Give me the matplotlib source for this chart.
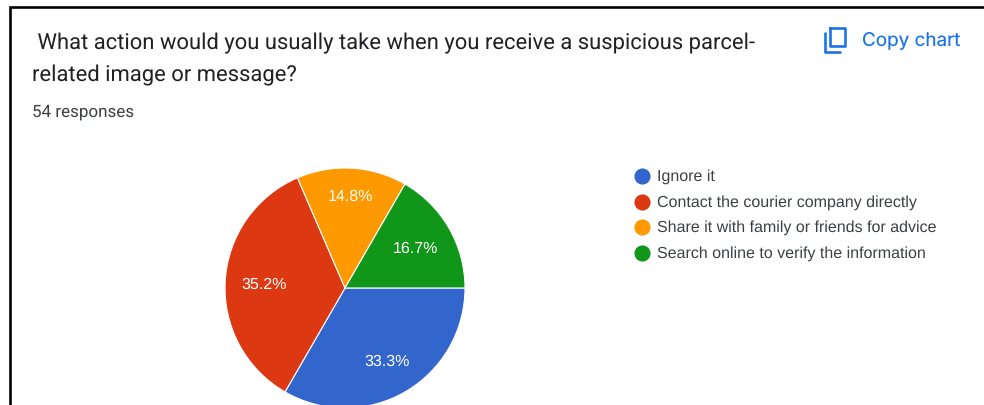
import matplotlib
matplotlib.use('Agg')
import matplotlib.pyplot as plt
import numpy as np

plt.rcParams['font.family'] = ['Roboto', 'DejaVu Sans']
plt.rcParams['text.hinting'] = 'no_hinting'
plt.rcParams['text.hinting_factor'] = 1

title_lines = [' What action would you usually take when you receive a suspicious parcel-',
               'related image or message?']
subtitle = '54 responses'
categories = ['Ignore it', 'Contact the courier company directly',
              'Share it with family or friends for advice',
              'Search online to verify the information']
counts = [18, 19, 8, 9]
colors = ['#3366CC', '#DC3912', '#FF9900', '#109618']
# google forms does not put the percentages on one radius
label_radius = [0.70, 0.68, 0.77, 0.67]

fig = plt.figure(figsize=(9.84, 4.05), dpi=100)
ax = fig.add_axes([0, 0, 1, 1])

# pie, clockwise from 3 o'clock
wedges, _ = ax.pie(counts, colors=colors, startangle=0, counterclock=False,
                   center=(345, 405 - 288), radius=120, frame=True,
                   wedgeprops={'edgecolor': 'white', 'linewidth': 0.8})
total = sum(counts)
for w, c, r in zip(wedges, counts, label_radius):
    mid = np.radians((w.theta1 + w.theta2) / 2)
    ax.text(345 + 120 * r * np.cos(mid) + 0.5, 116 + 120 * r * np.sin(mid),
            f'{c / total * 100:.1f}%', color='white', fontsize=11.7,
            ha='center', va='center', family='Liberation Sans')

ax.set_xlim(0, 984)
ax.set_ylim(0, 405)
ax.axis('off')

# card border, cut by the bottom and right edges
ax.plot([9.8, 9.8, 984], [0, 398.4, 398.4], color='black', lw=1.9,
        solid_joinstyle='miter')

# header
ax.text(32, 405 - 43, title_lines[0], fontsize=15.55, color='#202124', va='center')
ax.text(32, 405 - 75, title_lines[1], fontsize=15.55, color='#202124', va='center')
ax.text(32, 405 - 112, subtitle, fontsize=11.95, color='#3c4043', va='center')

# copy icon: rounded front sheet and the L of the sheet behind it
blue = '#1a73e8'
icon_x = [830, 845, 845, 830, 830]
icon_y = [27.5, 27.5, 46, 46, 27.5]
ax.plot(icon_x, [405 - v for v in icon_y], color=blue, lw=1.9, solid_joinstyle='round')
ax.plot([824.5, 824.5, 840], [405 - 33, 405 - 51.5, 405 - 51.5], color=blue, lw=1.9,
        solid_joinstyle='round', solid_capstyle='round')
ax.text(862, 405 - 40.5, 'Copy chart', fontsize=13.6, color=blue, va='center', family='Inter')

# legend
legend_y = [176, 201.5, 227, 252.5]
for name, col, y in zip(categories, colors, legend_y):
    ax.scatter([642], [405 - y], s=135, color=col, linewidths=0, clip_on=False)
    ax.text(657, 405 - y - 1, name, fontsize=11.5, color='#3c4043', va='center',
            family='Liberation Sans')

fig.savefig('out.png', dpi=100)
